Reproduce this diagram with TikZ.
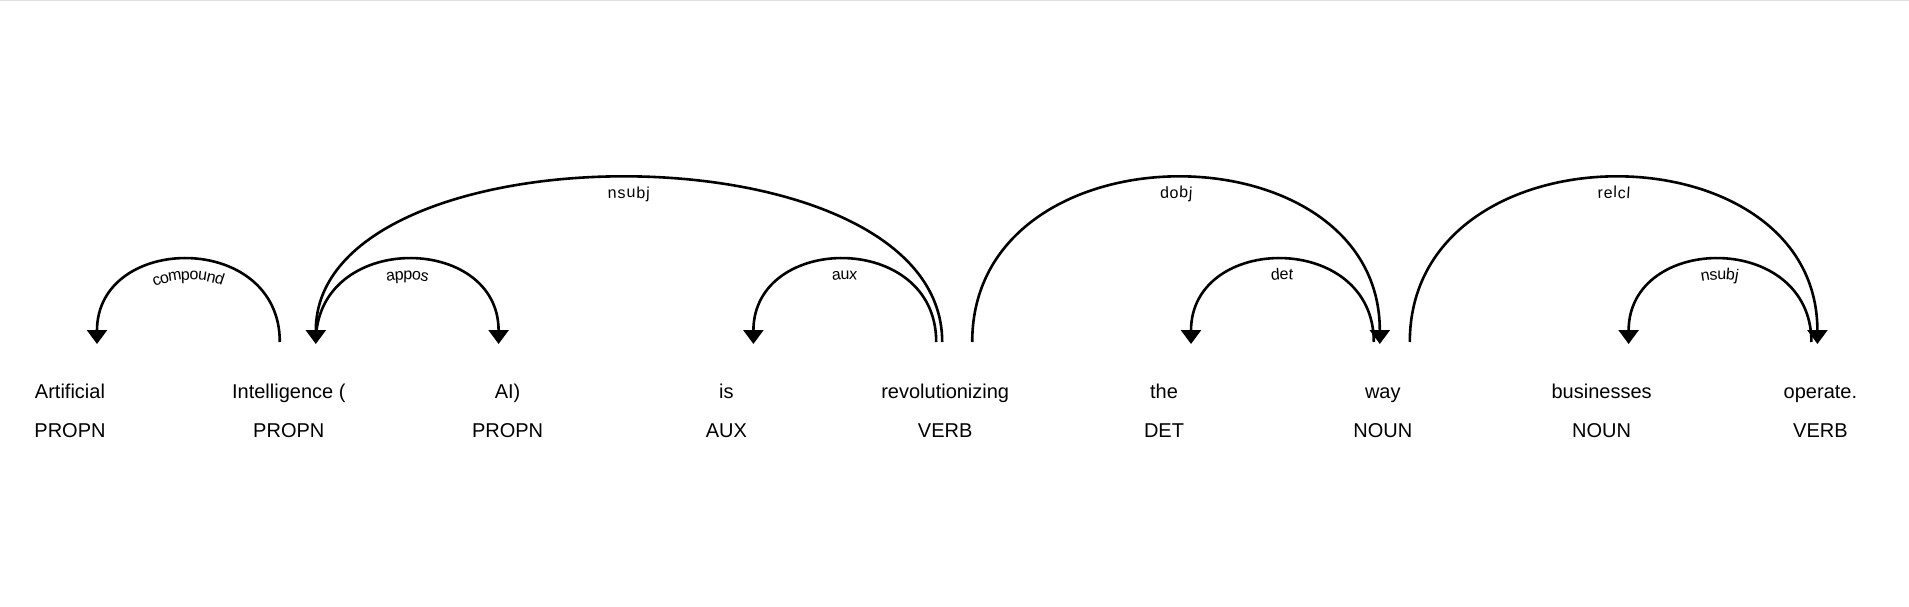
\documentclass[tikz,border=0pt]{standalone}
\usepackage{fontspec}
\setmainfont{Liberation Sans}
\usepackage{tikz}
\usetikzlibrary{arrows.meta,calc,decorations.text}

\newcommand{\wordfont}{\fontsize{10pt}{12pt}\selectfont}
\newcommand{\lblfont}{\fontsize{8pt}{9.6pt}\selectfont}

\begin{document}
\begin{tikzpicture}[x=0.5pt, y=0.5pt,
    word/.style={anchor=base, inner sep=0pt, font=\wordfont},
    tag/.style={anchor=base, inner sep=0pt, font=\wordfont},
    dep/.style={line width=1.3pt, draw=black},
    tipl/.style={{Triangle[width=10pt,length=7pt]}-},
    tipr/.style={-{Triangle[width=10pt,length=7pt]}},
    lbl/.style={postaction={decorate, decoration={text effects along path,
        text={#1}, text align=center, raise=-10pt,
        text effects/.cd, character widths={font=\lblfont, inner xsep=0.3pt},
        characters={text along path, font=\lblfont}}}}]

    \useasboundingbox (0,0) rectangle (1909,606);
    \draw[gray!25, line width=0.8pt] (0,605.5) -- (1909,605.5);

    % Row 1: words
    \node[word] (w0) at (70,208) {Artificial};
    \node[word] (w1) at (288.8,208) {Intelligence (};
    \node[word] (w2) at (507.6,208) {AI)};
    \node[word] (w3) at (726.4,208) {is};
    \node[word] (w4) at (945.2,208) {revolutionizing};
    \node[word] (w5) at (1164,208) {the};
    \node[word] (w6) at (1382.8,208) {way};
    \node[word] (w7) at (1601.6,208) {businesses};
    \node[word] (w8) at (1820.4,208) {operate.};

    % Row 2: tags
    \node[tag] (t0) at (70,169) {PROPN};
    \node[tag] (t1) at (288.8,169) {PROPN};
    \node[tag] (t2) at (507.6,169) {PROPN};
    \node[tag] (t3) at (726.4,169) {AUX};
    \node[tag] (t4) at (945.2,169) {VERB};
    \node[tag] (t5) at (1164,169) {DET};
    \node[tag] (t6) at (1382.8,169) {NOUN};
    \node[tag] (t7) at (1601.6,169) {NOUN};
    \node[tag] (t8) at (1820.4,169) {VERB};

    % Arcs, level 1
    \draw[dep, tipl, lbl=compound] ($(w0.base)+(27,54)$) .. controls +(0,111) and +(0,111) .. ($(w1.base)+(-9,56)$);
    \draw[dep, tipr, lbl=appos] ($(w1.base)+(27,56)$) .. controls +(0,111) and +(0,111) .. ($(w2.base)+(-9,54)$);
    \draw[dep, tipl, lbl=aux] ($(w3.base)+(27,54)$) .. controls +(0,111) and +(0,111) .. ($(w4.base)+(-9,56)$);
    \draw[dep, tipl, lbl=det] ($(w5.base)+(27,54)$) .. controls +(0,111) and +(0,111) .. ($(w6.base)+(-9,56)$);
    \draw[dep, tipl, lbl=nsubj] ($(w7.base)+(27,54)$) .. controls +(0,111) and +(0,111) .. ($(w8.base)+(-9,56)$);

    % Arcs, level 2
    \draw[dep, tipl, lbl=nsubj] ($(w1.base)+(27,54)$) .. controls +(0,220) and +(0,220) .. ($(w4.base)+(-3,56)$);
    \draw[dep, tipr, lbl=dobj] ($(w4.base)+(27,56)$) .. controls +(0,220) and +(0,220) .. ($(w6.base)+(-3,54)$);
    \draw[dep, tipr, lbl=relcl] ($(w6.base)+(27,56)$) .. controls +(0,220) and +(0,220) .. ($(w8.base)+(-3,54)$);
\end{tikzpicture}
\end{document}
